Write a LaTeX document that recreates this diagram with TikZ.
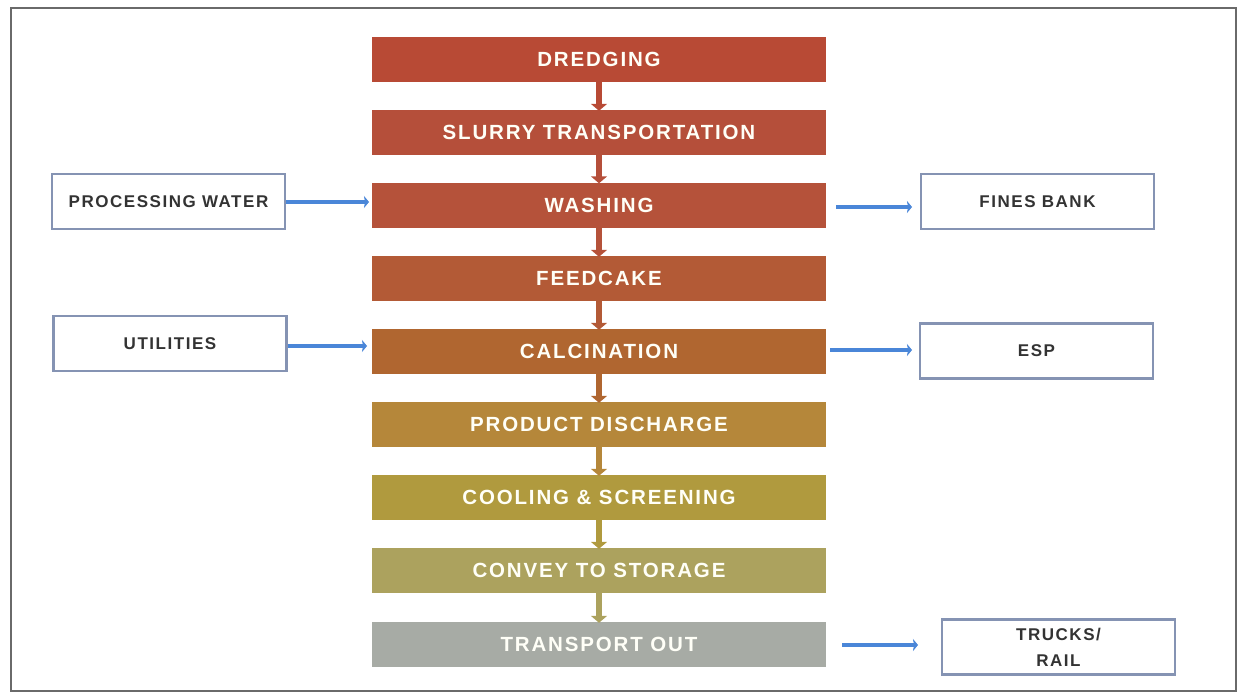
\documentclass[tikz,border=0pt]{standalone}
\usepackage{fontspec}
\setmainfont{Liberation Sans}
\usetikzlibrary{arrows.meta}
\definecolor{c1}{HTML}{B84A35}
\definecolor{c2}{HTML}{B54F3A}
\definecolor{c3}{HTML}{B5523A}
\definecolor{c4}{HTML}{B35A36}
\definecolor{c5}{HTML}{B06630}
\definecolor{c6}{HTML}{B5873A}
\definecolor{c7}{HTML}{B09A3E}
\definecolor{c8}{HTML}{ACA25E}
\definecolor{c9}{HTML}{A7ABA5}
\definecolor{bluearr}{HTML}{4A86D8}
\definecolor{sideedge}{HTML}{8593B3}
\definecolor{frame}{HTML}{6A6A6A}
\tikzset{
  stage/.style={fill=#1, draw=none, minimum width=454pt, minimum height=45pt,
    inner sep=0pt, text=white!97!yellow,
    font=\bfseries\fontsize{20.5}{23}\selectfont\addfontfeatures{LetterSpace=9}},
  sidebox/.style={draw=sideedge, line width=2.8pt, fill=white, minimum width=233pt,
    minimum height=55pt, inner sep=0pt, text=black!80, align=center,
    font=\bfseries\fontsize{17}{26}\selectfont\addfontfeatures{LetterSpace=9}},
  flow/.style={draw=#1, line width=6pt, -{Triangle[length=7pt,width=16pt]}, shorten >=-1pt},
  feed/.style={draw=bluearr, line width=3.5pt, -{Stealth[length=5pt,width=12pt,inset=1pt]}}
}
\begin{document}
\begin{tikzpicture}[x=1pt,y=-1pt]
\useasboundingbox (0,0) rectangle (1238,693);
\draw[frame, line width=2.5pt] (11,8) -- (1236,8) -- (1236,691) -- (11,691) -- cycle;

\node[stage=c1] (s1) at (599,59.5) {DREDGING};
\node[stage=c2] (s2) at (599,132.5) {SLURRY TRANSPORTATION};
\node[stage=c3] (s3) at (599,205) {WASHING};
\node[stage=c4] (s4) at (599,278.5) {FEEDCAKE};
\node[stage=c5] (s5) at (599,351.5) {CALCINATION};
\node[stage=c6] (s6) at (599,424.5) {PRODUCT DISCHARGE};
\node[stage=c7] (s7) at (599,497.5) {COOLING \& SCREENING};
\node[stage=c8] (s8) at (599,570.5) {CONVEY TO STORAGE};
\node[stage=c9] (s9) at (599,644.5) {TRANSPORT OUT};

\foreach \a/\b/\c in {s1/s2/c1,s2/s3/c2,s3/s4/c3,s4/s5/c4,s5/s6/c5,s6/s7/c6,s7/s8/c7,s8/s9/c8}
  \draw[flow=\c] (\a.south) -- (\b.north);

\node[sidebox] (pw) at (168.5,201.5) {PROCESSING WATER};
\node[sidebox] (ut) at (170,343.5) {UTILITIES};
\node[sidebox] (fb) at (1037.5,201.5) {FINES BANK};
\node[sidebox] (esp) at (1036.5,351) {ESP};
\node[sidebox] (tr) at (1058.5,647) {TRUCKS/\\RAIL};

\coordinate (pwin) at (369,202);
\coordinate (utin) at (367,346);
\coordinate (fbout) at (836,207);
\coordinate (espout) at (830,350);
\coordinate (trout) at (842,645);
\coordinate (fbin) at (912,207);
\coordinate (espin) at (912,350);
\coordinate (trin) at (918,645);

\draw[feed] (pw.east |- pwin) -- (pwin);
\draw[feed] (ut.east |- utin) -- (utin);
\draw[feed] (fbout) -- (fbin);
\draw[feed] (espout) -- (espin);
\draw[feed] (trout) -- (trin);
\end{tikzpicture}
\end{document}
